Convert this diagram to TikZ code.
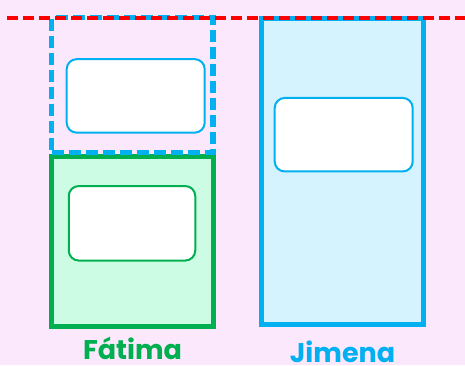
\documentclass[tikz,border=0pt]{standalone}
\usepackage{fontspec}
\setsansfont{Poppins}
\usetikzlibrary{positioning}

\begin{document}
\begin{tikzpicture}[x=1pt, y=-1pt]
    % Colors
    \definecolor{bgCol}{HTML}{FCE8FC}
    \definecolor{greenCol}{HTML}{00B050}
    \definecolor{greenFill}{HTML}{CCFCE4}
    \definecolor{blueCol}{HTML}{00B0F0}
    \definecolor{blueFill}{HTML}{D4F3FE}
    \definecolor{lineCol}{HTML}{FF0000}

    \tikzset{
        bar/.style={draw=#1, line width=5pt, inner sep=0pt, outer sep=0pt},
        slot/.style={draw=#1, fill=white, line width=2pt, rounded corners=10pt, inner sep=0pt},
        barLabel/.style={text=#1, font=\sffamily\bfseries\fontsize{27}{30}\selectfont, inner sep=0pt}
    }

    % Background & frame
    \fill[bgCol] (0,0) rectangle (465,365);
    \useasboundingbox (0,0) rectangle (465,365);

    % 1. Fatima: solid bar and dashed extension above it
    \node[bar=greenCol, fill=greenFill, minimum width=162pt, minimum height=170pt] (fatima) at (132.5,241) {};
    \node[bar=blueCol, line width=5.5pt, dash pattern=on 12pt off 5pt, minimum width=161.5pt, minimum height=135pt] (fatimaTop) at (132.25,85) {};
    \node[slot=greenCol, minimum width=126.5pt, minimum height=74.5pt] (fatimaSlot) at (132,223.3) {};
    \node[slot=blueCol, minimum width=138pt, minimum height=73.5pt] (fatimaTopSlot) at (135.7,95.9) {};

    % 2. Jimena: tall bar
    \node[bar=blueCol, fill=blueFill, minimum width=162pt, minimum height=306pt] (jimena) at (342.5,171.5) {};
    \node[slot=blueCol, minimum width=138pt, minimum height=73.5pt] (jimenaSlot) at (343.7,134.7) {};

    % 3. Names
    \node[barLabel=greenCol, below=11pt of fatima] (fatimaName) {Fátima};
    \node[barLabel=blueCol, below=16pt of jimena] (jimenaName) {Jimena};

    % 4. Reference level
    \coordinate (levelL) at (7,17.5);
    \coordinate (levelR) at (465,17.5);
    \draw[lineCol, line width=4pt, dash pattern=on 11pt off 5pt] (levelL) -- (levelR);
\end{tikzpicture}
\end{document}
